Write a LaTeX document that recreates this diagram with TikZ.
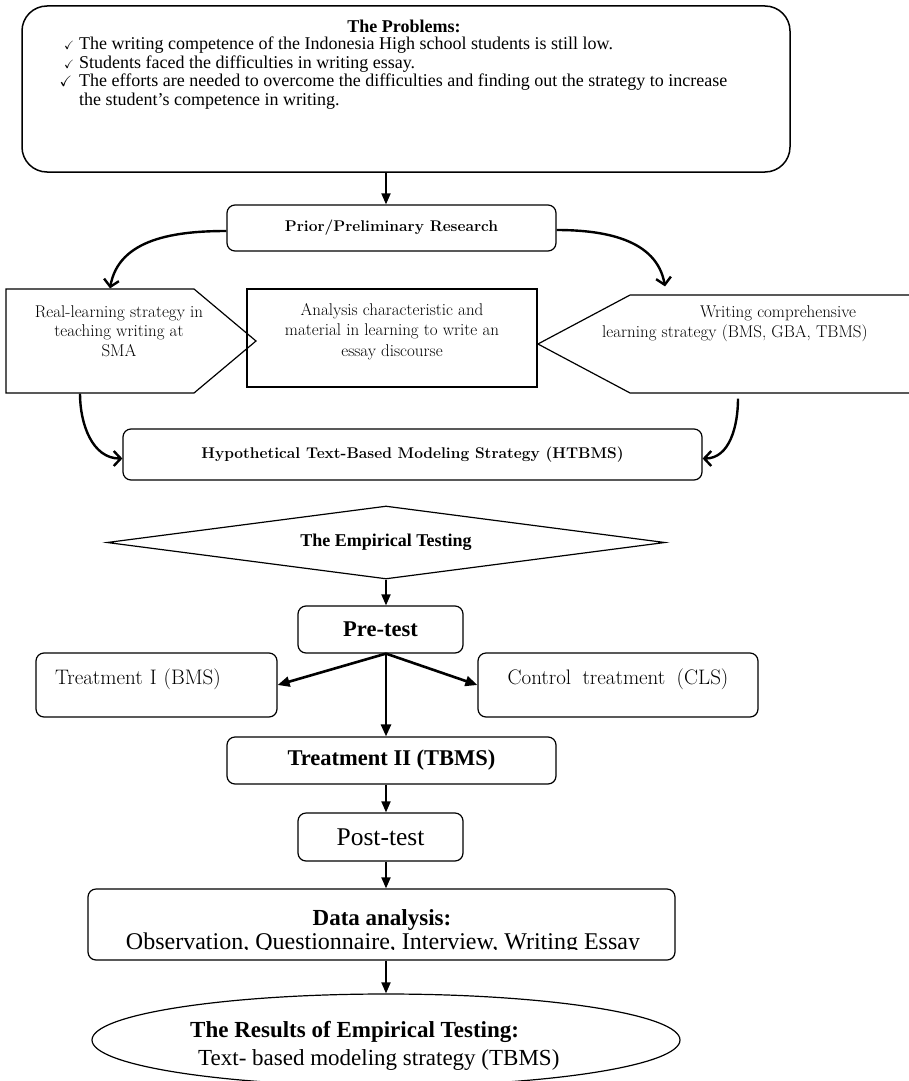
\documentclass[tikz,border=0pt]{standalone}
\usepackage{amssymb}
\usepackage{fontspec}
\newfontfamily\tnr{Liberation Serif}
\usetikzlibrary{arrows.meta,shapes.geometric,shapes.symbols}

\tikzset{
	rbox/.style={draw, line width=1.2pt, rounded corners=8pt, inner sep=0pt},
	txt/.style={inner sep=0pt},
	cam/.style={inner sep=0pt, align=center, font=\fontsize{17}{20.5}\selectfont},
	probline/.style={inner sep=0pt, anchor=base west, font=\tnr\fontsize{18}{18}\selectfont},
	flowarrow/.style={line width=1.8pt, -{Triangle[length=11pt,width=9pt]}},
	fanarrow/.style={line width=2.6pt, -{Triangle[length=12pt,width=10pt]}},
	bendarrow/.style={line width=2.4pt, -{Straight Barb[length=7pt,width=15pt]}},
}

\begin{document}
\begin{tikzpicture}[x=1pt,y=-1pt]
	\useasboundingbox (0,0) rectangle (908,1081);

	%PROBLEMS
	\node[rbox, line width=1.5pt, rounded corners=25pt, minimum width=768pt, minimum height=166pt] (problems) at (406,89) {};
	\node[txt, anchor=base, font=\tnr\fontsize{18}{18}\selectfont\bfseries] (probhead) at (404,33) {The Problems:};
	\node[probline] (prob1) at (79,50) {\llap{\fontsize{12}{12}\selectfont\checkmark\hspace{5pt}}The writing competence of the Indonesia High school students is still low.};
	\node[probline] (prob2) at (79,68) {\llap{\fontsize{12}{12}\selectfont\checkmark\hspace{5pt}}Students faced the difficulties in writing essay.};
	\node[probline] (prob3) at (79,86) {\llap{\fontsize{15}{15}\selectfont\checkmark\hspace{7pt}}The efforts are needed to overcome the difficulties and finding out the strategy to increase};
	\node[probline] (prob3b) at (79,105) {the student’s competence in writing.};

	%PRIOR RESEARCH
	\node[rbox, minimum width=329pt, minimum height=46pt, font=\fontsize{15.5}{18}\selectfont\bfseries] (prior) at (391.5,228) {Prior/Preliminary Research};
	\coordinate (axis1) at ([xshift=-5.5pt]prior.north);
	\draw[flowarrow] (axis1 |- problems.south) -- (axis1);

	%STRATEGIES
	\node[draw, signal, signal to=east, signal pointer angle=80, line width=1.2pt, minimum width=250pt, minimum height=104pt, inner sep=0pt] (real) at (100,341) {};
	\node[cam, font=\fontsize{17}{19.5}\selectfont] (realtxt) at (119,331) {Real-learning strategy in\\teaching writing at\\SMA};
	\node[draw, line width=1.3pt, minimum width=290pt, minimum height=98pt, cam, text depth=17pt] (anal) at (392,338) {Analysis characteristic and\\material in learning to write an\\essay discourse};
	\node[draw, signal, signal to=west, signal pointer angle=56, line width=1.2pt, minimum width=400pt, minimum height=98pt, inner sep=0pt] (writ) at (784,344) {};
	\node[cam, align=left, anchor=west] (writtxt) at (602,323.5) {\hspace*{98pt}Writing comprehensive\\learning strategy (BMS, GBA, TBMS)};

	\draw[bendarrow] ([yshift=-3pt]prior.west) to[out=180,in=80] ([xshift=10pt]real.north);		%to real-learning
	\draw[bendarrow] ([yshift=-2pt]prior.east) to[out=0,in=100] ([xshift=-119pt,yshift=8pt]writ.north);	%to comprehensive

	%HYPOTHETICAL
	\node[rbox, minimum width=579pt, minimum height=51pt, font=\fontsize{15.5}{18}\selectfont\bfseries] (hyp) at (412.5,454.5) {Hypothetical Text-Based Modeling Strategy (HTBMS)};
	\draw[bendarrow] ([xshift=-20pt]real.south) to[out=-90,in=180] ([yshift=-4pt]hyp.west);
	\draw[bendarrow] ([xshift=-46pt,yshift=-5pt]writ.south) to[out=-90,in=0] ([yshift=-4pt]hyp.east);

	%TESTING
	\node[draw, diamond, aspect=7.6, line width=1.2pt, inner sep=0pt, minimum width=558pt, minimum height=73pt, font=\tnr\fontsize{18}{18}\selectfont\bfseries] (empir) at (386,542.5) {The Empirical Testing};
	\node[rbox, minimum width=165pt, minimum height=47pt, font=\tnr\fontsize{22.5}{24}\selectfont\bfseries] (pretest) at (380.5,629.5) {Pre-test};
	\node[rbox, minimum width=241pt, minimum height=64pt, text width=203pt, align=left, text depth=16pt, font=\fontsize{21}{24}\selectfont] (treat1) at (156.5,685) {Treatment I (BMS)};
	\node[rbox, minimum width=280pt, minimum height=64pt, text depth=16pt, font=\fontsize{21}{24}\selectfont] (ctrl) at (618,685) {Control\hspace{5pt} treatment\hspace{5pt} (CLS)};
	\node[rbox, minimum width=329pt, minimum height=47pt, font=\tnr\fontsize{22.5}{24}\selectfont\bfseries] (treat2) at (391.5,760.5) {Treatment II (TBMS)};
	\node[rbox, minimum width=165pt, minimum height=48pt, font=\tnr\fontsize{25.5}{27}\selectfont] (posttest) at (380.5,837) {Post-test};

	\coordinate (axis2) at (empir.south);
	\draw[flowarrow] (empir.south) -- (axis2 |- pretest.north);
	\foreach \target in {treat1.east, ctrl.west}{
		\draw[fanarrow] (axis2 |- pretest.south) -- (\target);
	}
	\draw[fanarrow] (axis2 |- pretest.south) -- (axis2 |- treat2.north);
	\draw[flowarrow] (axis2 |- treat2.south) -- (axis2 |- posttest.north);

	%DATA AND RESULTS
	\node[rbox, minimum width=587pt, minimum height=71pt] (data) at (381.5,924.5) {};
	\node[txt, anchor=base, font=\tnr\fontsize{23}{26}\selectfont\bfseries] (datahead) at (382,925) {Data analysis:};
	\begin{scope}
		\clip (80,928) rectangle (690,949.6);	%lower edge of the line is cut off
		\node[txt, anchor=base, font=\tnr\fontsize{24}{26}\selectfont] (datalist) at (383,949.5) {Observation, Questionnaire, Interview, Writing Essay};
	\end{scope}
	\draw[flowarrow] (axis2 |- posttest.south) -- (axis2 |- data.north);

	\node[draw, ellipse, line width=1.2pt, inner sep=0pt, minimum width=588pt, minimum height=92pt] (results) at (386,1040) {};
	\node[txt, anchor=base west, font=\tnr\fontsize{23}{26}\selectfont\bfseries] (reshead) at (190,1037) {The Results of Empirical Testing:};
	\node[txt, anchor=base west, font=\tnr\fontsize{23}{26}\selectfont] (resline) at (198,1065) {Text- based modeling strategy (TBMS)};
	\draw[flowarrow] (axis2 |- data.south) -- (results.north);
\end{tikzpicture}
\end{document}
